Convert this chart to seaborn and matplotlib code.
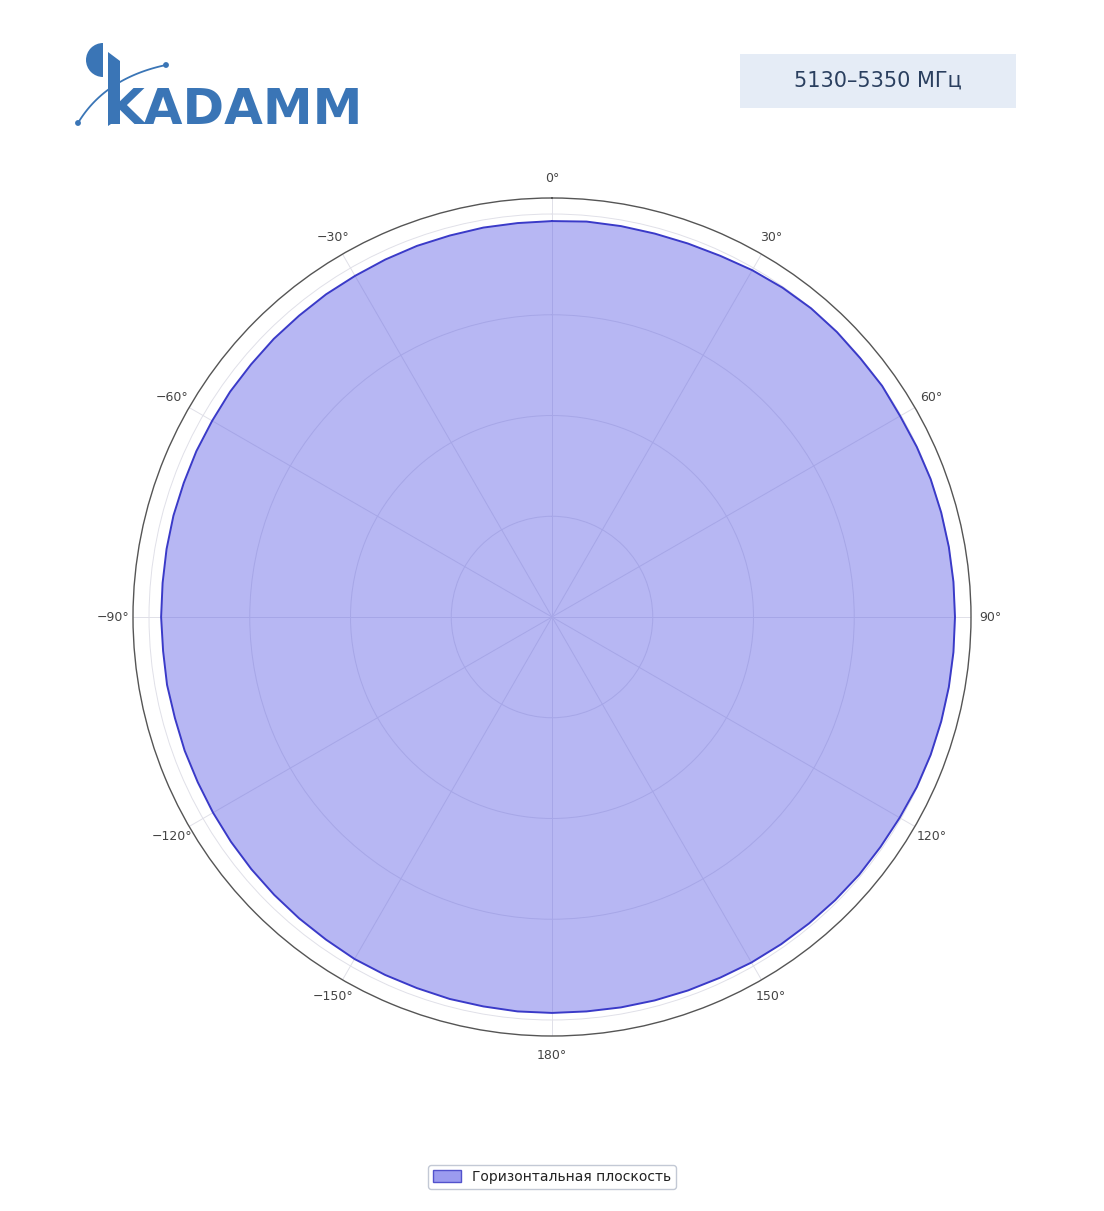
import numpy as np
import pandas as pd
import matplotlib
matplotlib.use("Agg")
import matplotlib.pyplot as plt
from matplotlib.patches import Patch, Wedge, FancyBboxPatch, Circle
import seaborn as sns

# ---------------- data ----------------
angles_deg = list(range(0, 360, 5))  # clockwise from top
gain_db = [
    -0.70, -0.60, -0.60, -0.60, -0.55, -0.45, -0.25, -0.10, 0.00, 0.00,
    -0.05, 0.00, -0.10, -0.05, 0.00, 0.00, 0.00, 0.00, 0.00, 0.00,
    0.00, 0.00, 0.00, -0.05, -0.15, -0.20, -0.20, -0.25, -0.30, -0.35,
    -0.40, -0.50, -0.55, -0.60, -0.65, -0.70, -0.70, -0.70, -0.75, -0.75,
    -0.80, -0.80, -0.80, -0.90, -0.95, -1.00, -1.05, -1.10, -1.15, -1.20,
    -1.20, -1.25, -1.20, -1.25, -1.20, -1.20, -1.15, -1.10, -1.10, -1.05,
    -1.05, -1.00, -1.00, -0.95, -0.95, -0.90, -0.90, -0.85, -0.80, -0.80,
    -0.75, -0.75,
]
theta_ticks = [0, 30, 60, 90, 120, 150, 180, 210, 240, 270, 300, 330]
theta_labels = ["0°", "30°", "60°", "90°", "120°", "150°", "180°",
                "−150°", "−120°", "−90°", "−60°", "−30°"]
r_ticks = [-30, -20, -10, 0]
r_min, r_max = -40, 1.59
series_name = "Горизонтальная плоскость"
band_label = "5130–5350 МГц"
logo_text = "KADAMM"

# ---------------- style ----------------
sns.set_theme(style="white")
plt.rcParams["font.family"] = ["DejaVu Sans"]

fig = plt.figure(figsize=(11.04, 12.11), dpi=100)
ax = fig.add_axes([133 / 1104, 1 - 1036 / 1211, 838 / 1104, 838 / 1211],
                  projection="polar")

df = pd.DataFrame({"theta": np.deg2rad(angles_deg + [angles_deg[0]]),
                   "r": gain_db + [gain_db[0]]})

ax.set_theta_zero_location("N")
ax.set_theta_direction(-1)
ax.set_ylim(r_min, r_max)
ax.set_yticks(r_ticks)
ax.set_yticklabels([])
ax.set_thetagrids(theta_ticks, theta_labels)
ax.tick_params(axis="x", pad=1, labelsize=9, colors="#444444")
ax.grid(True, color="#e0e0e8", linewidth=0.7)
ax.set_axisbelow(True)
ax.spines["polar"].set_color("#555555")
ax.spines["polar"].set_linewidth(1.0)

fill_color = "#6666e6"
line_color = "#3a3ac8"
ax.fill(df["theta"], df["r"], color=fill_color, alpha=0.47, lw=0, zorder=2)
sns.lineplot(data=df, x="theta", y="r", ax=ax, sort=False, estimator=None,
             color=line_color, linewidth=1.4, zorder=3)
ax.set_xlabel("")
ax.set_ylabel("")

handle = Patch(facecolor="#9b9bef", edgecolor="#5252cc", label=series_name)
leg = fig.legend(handles=[handle], loc="center", bbox_to_anchor=(0.5, 1 - 1177 / 1211),
                 frameon=True, fontsize=10, handlelength=2.0, handleheight=0.9,
                 borderpad=0.35, fancybox=True)
leg.get_frame().set_edgecolor("#b4bccb")
leg.get_frame().set_linewidth(1.0)
for t in leg.get_texts():
    t.set_color("#222222")

# ---------------- header: frequency band box ----------------
box = FancyBboxPatch((740 / 1104, 1 - 108 / 1211), 276 / 1104, 54 / 1211,
                     boxstyle="square,pad=0", transform=fig.transFigure,
                     facecolor="#e5ecf6", edgecolor="none")
fig.patches.append(box)
fig.text(878 / 1104, 1 - 81 / 1211, band_label, ha="center", va="center",
         fontsize=15, color="#2a3f5f")

# ---------------- header: logo ----------------
logo_color = "#3a75b6"
lax = fig.add_axes([0, 1 - 140 / 1211, 400 / 1104, 140 / 1211])
lax.set_xlim(0, 400)
lax.set_ylim(140, 0)
lax.axis("off")
lax.text(105, 124, logo_text, fontsize=36, fontweight="bold", color=logo_color,
         ha="left", va="baseline", family="DejaVu Sans")
# half disc
lax.add_patch(Wedge((103, 60), 17, 90, 270, facecolor=logo_color, edgecolor="none"))
# tall stem of K
lax.add_patch(plt.Polygon([[108, 52], [120, 61], [120, 118], [108, 126]],
                          closed=True, facecolor=logo_color, edgecolor="none"))
# arc with end dots
tt = np.linspace(0, 1, 50)
ax_pts = (1 - tt) ** 2 * 78 + 2 * (1 - tt) * tt * 105 + tt ** 2 * 166
ay_pts = (1 - tt) ** 2 * 123 + 2 * (1 - tt) * tt * 78 + tt ** 2 * 65
lax.plot(ax_pts, ay_pts, color=logo_color, lw=1.3)
lax.add_patch(Circle((78, 123), 2.2, color=logo_color))
lax.add_patch(Circle((166, 65), 2.2, color=logo_color))

fig.savefig("out.png", dpi=100)
